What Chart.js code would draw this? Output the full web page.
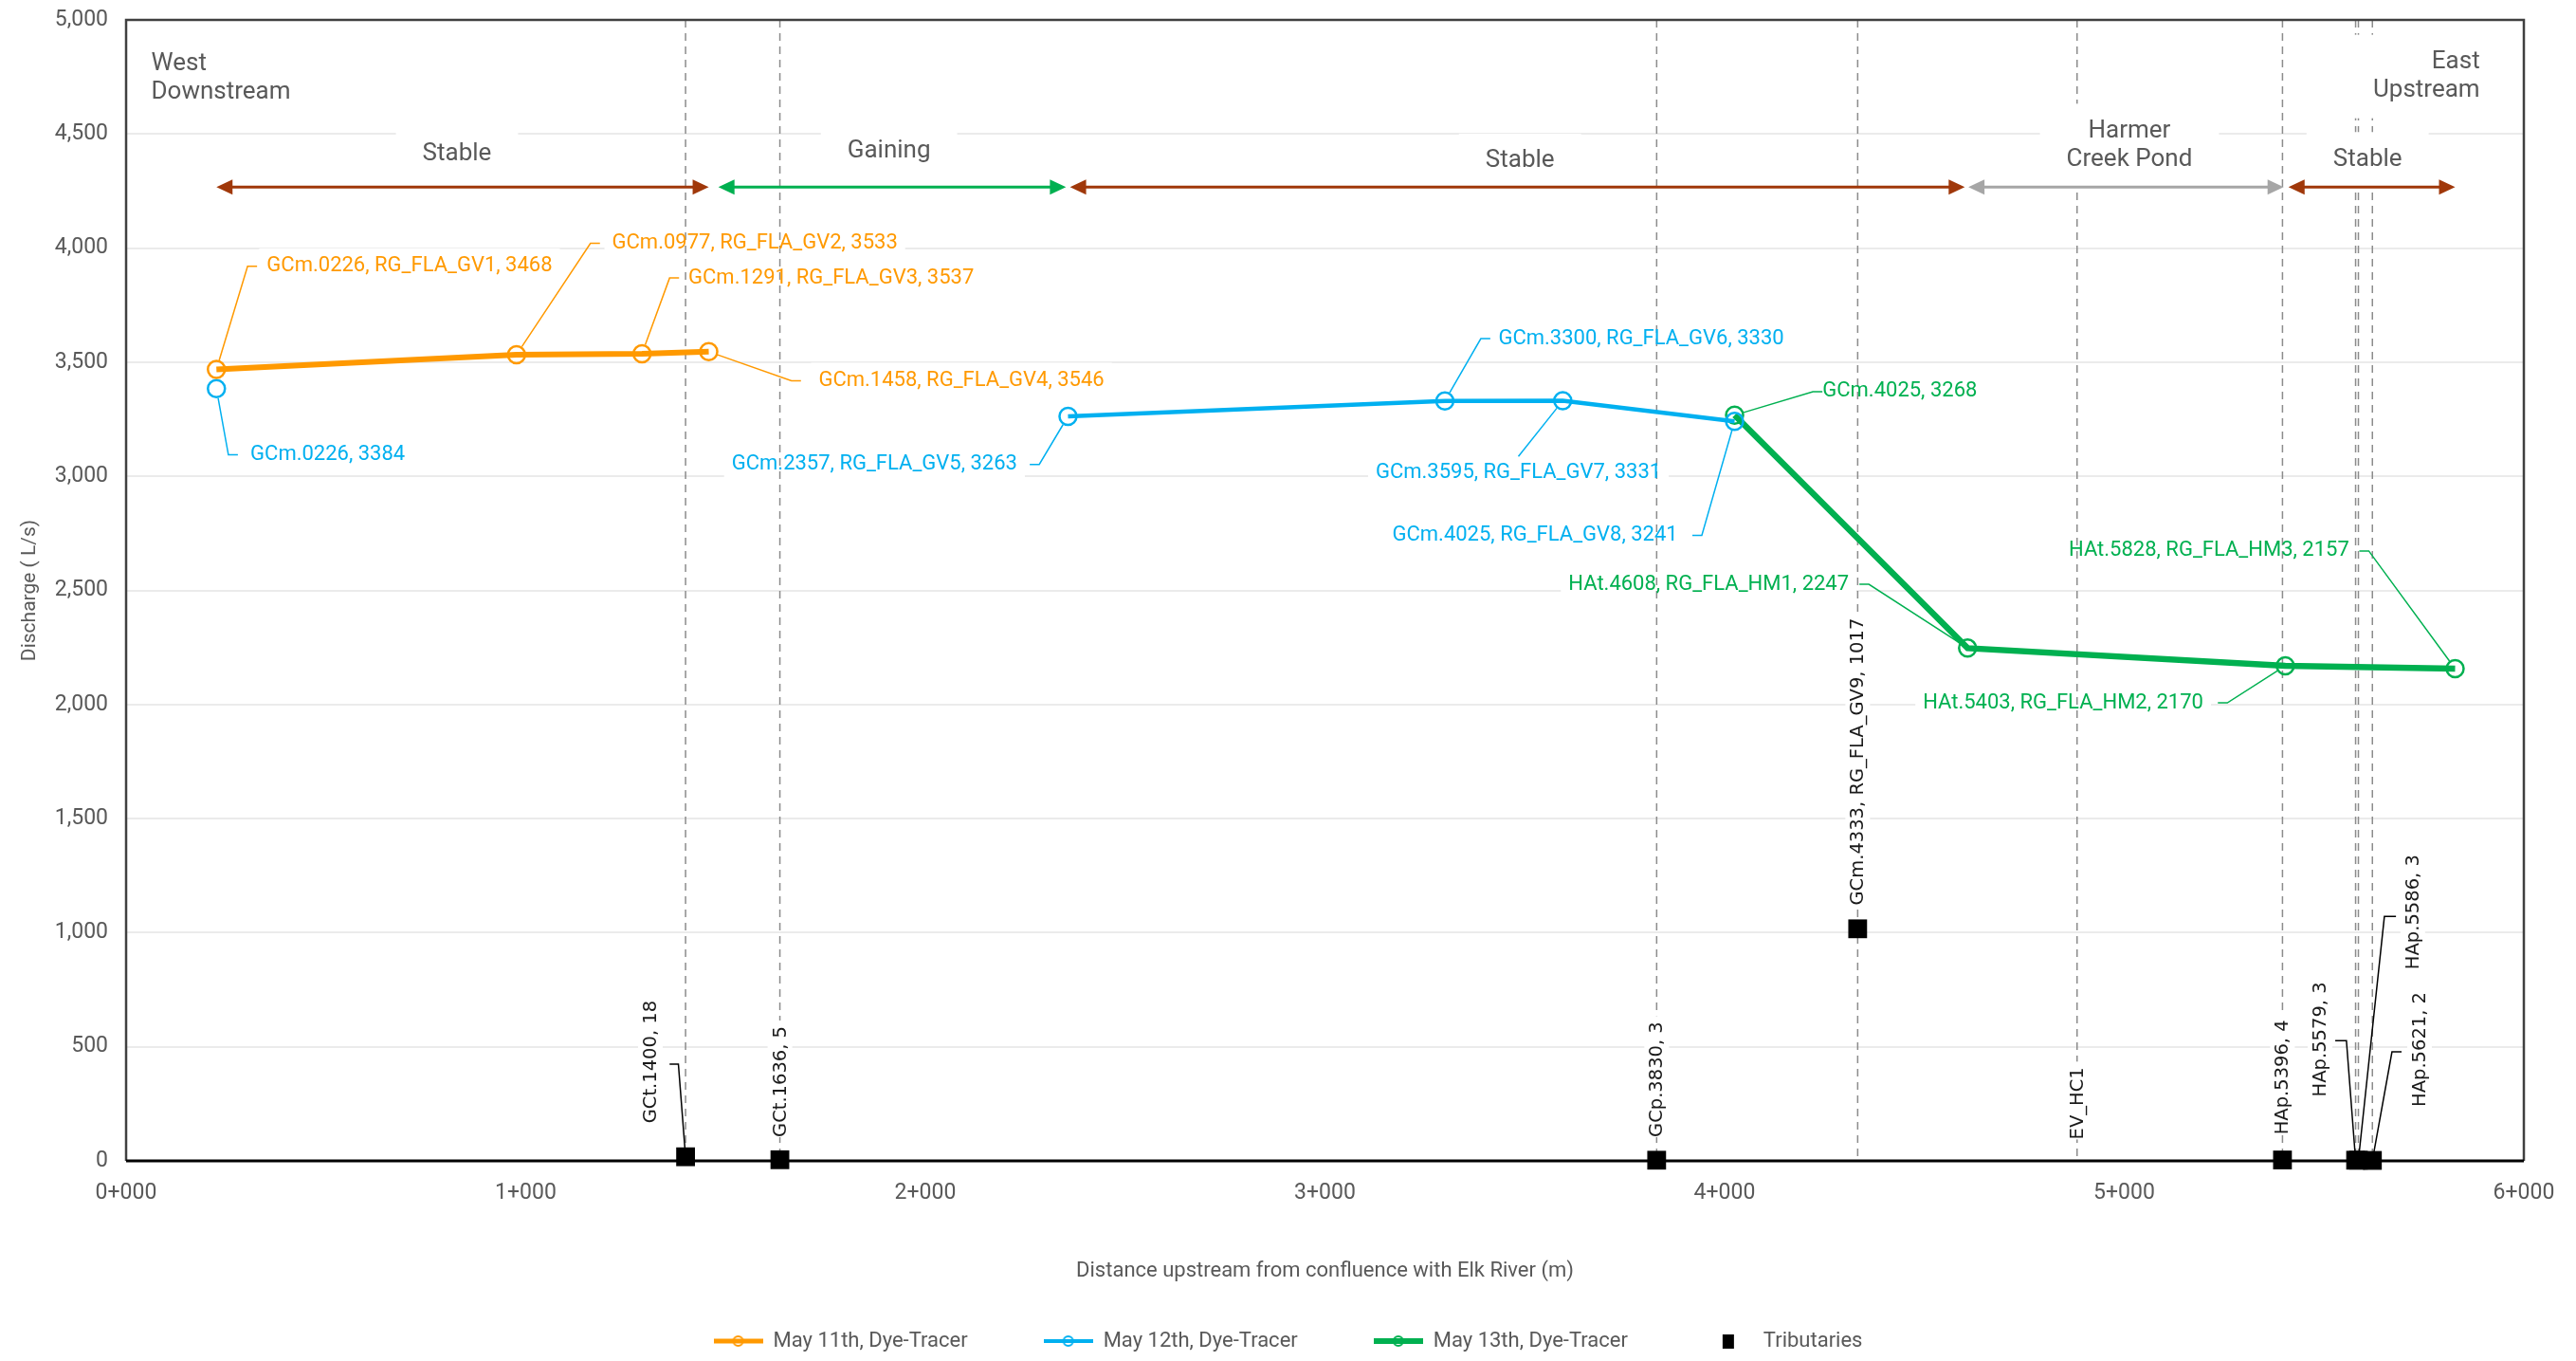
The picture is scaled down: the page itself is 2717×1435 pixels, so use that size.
<!DOCTYPE html>
<html lang="en">
<head>
    <meta charset="UTF-8">
    <title>Discharge - Dye-Tracer</title>
    <script src="https://cdn.jsdelivr.net/npm/chart.js"></script>
    <style>
        html, body { margin: 0; padding: 0; background: #fff; }
        #wrap { width: 2717px; height: 1435px; }
    </style>
</head>
<body>
<div id="wrap"><canvas id="myChart"></canvas></div>
<script>
    // distance upstream (m) and discharge (L/s) for each tracer run
    const may11Dist = [226, 977, 1291, 1458];
    const may11Q = [3468, 3533, 3537, 3546];
    const may11Labels = ['GCm.0226, RG_FLA_GV1, 3468', 'GCm.0977, RG_FLA_GV2, 3533', 'GCm.1291, RG_FLA_GV3, 3537', 'GCm.1458, RG_FLA_GV4, 3546'];

    const may12Dist = [226, 2357, 3300, 3595, 4025];
    const may12Q = [3384, 3263, 3330, 3331, 3241];
    const may12Labels = ['GCm.0226, 3384', 'GCm.2357, RG_FLA_GV5, 3263', 'GCm.3300, RG_FLA_GV6, 3330', 'GCm.3595, RG_FLA_GV7, 3331', 'GCm.4025, RG_FLA_GV8, 3241'];

    const may13Dist = [4025, 4608, 5403, 5828];
    const may13Q = [3268, 2247, 2170, 2157];
    const may13Labels = ['GCm.4025, 3268', 'HAt.4608, RG_FLA_HM1, 2247', 'HAt.5403, RG_FLA_HM2, 2170', 'HAt.5828, RG_FLA_HM3, 2157'];

    const tribDist = [1400, 1636, 3830, 4333, 5396, 5579, 5586, 5621];
    const tribQ = [18, 5, 3, 1017, 4, 3, 3, 2];
    const tribNames = ['GCt.1400', 'GCt.1636', 'GCp.3830', 'GCm.4333, RG_FLA_GV9', 'HAp.5396', 'HAp.5579', 'HAp.5586', 'HAp.5621'];

    const stationDist = 4882;   // EV_HC1, no discharge
    const stationName = 'EV_HC1';

    // reaches along the creek
    const zoneNames = ['Stable', 'Gaining', 'Stable', 'Harmer\nCreek Pond', 'Stable'];
    const zoneStart = [226, 1482, 2362, 4610, 5411];
    const zoneEnd = [1458, 2352, 4601, 5399, 5828];

    const xTicks = [0, 1000, 2000, 3000, 4000, 5000, 6000];

    // callout placement: [text x, text y, align, bend x, bend y]
    const may11Spots = [
        [352, 3920, 'left', 304, 3920],
        [1216, 4021, 'left', 1162, 4021],
        [1407, 3869, 'left', 1360, 3869],
        [1733, 3419, 'left', 1665, 3419]
    ];
    const may12Spots = [
        [311, 3094, 'left', 256, 3094],
        [2230, 3052, 'right', 2285, 3052],
        [3434, 3603, 'left', 3390, 3603],
        [3484, 3014, 'center', 3484, 3087],
        [3883, 2741, 'right', 3943, 2741]
    ];
    const may13Spots = [
        [4245, 3371, 'left', 4221, 3371],
        [4311, 2527, 'right', 4361, 2527],
        [5198, 2007, 'right', 5258, 2007],
        [5563, 2673, 'right', 5612, 2673]
    ];
    // rotated tributary labels: [text x, text start y, leader bend, leader end]
    const tribSpots = [
        [1312, 165, [1382, 424], [1360, 424]],
        [1636, 104],
        [3830, 104],
        [4333, 1120],
        [5396, 115],
        [5490, 281, [5556, 527], [5528, 527]],
        [5722, 839, [5651, 1071], [5680, 1071]],
        [5739, 237, [5670, 478], [5694, 478]]
    ];
    const zoneLabelX = [828, 1909, 3488, 5013, 5609];
    const zoneLabelY = [4410, 4424, 4381, 4450, 4388];

    const ORANGE = '#FF9900', BLUE = '#00B0F0', GREEN = '#00B050', BROWN = '#A0380A', GREY = '#A6A6A6';
    const zoneColors = [BROWN, GREEN, BROWN, GREY, BROWN];
    const TXT = '#595959';

    const toXY = (xs, ys) => xs.map((v, i) => ({x: v, y: ys[i]}));

    function lineIcon(color, w) {
        const c = document.createElement('canvas');
        c.width = 52; c.height = 20;
        const g = c.getContext('2d');
        g.strokeStyle = color;
        g.lineWidth = w;
        g.beginPath(); g.moveTo(0, 10); g.lineTo(52, 10); g.stroke();
        g.lineWidth = 2;
        g.beginPath(); g.arc(26, 10, 5, 0, Math.PI * 2); g.stroke();
        return c;
    }
    function squareIcon() {
        const c = document.createElement('canvas');
        c.width = 52; c.height = 20;
        const g = c.getContext('2d');
        g.fillStyle = '#000';
        g.fillRect(20, 3, 12, 15);
        return c;
    }
    const legendIcons = [lineIcon(ORANGE, 5), lineIcon(BLUE, 4), lineIcon(GREEN, 6), squareIcon()];

    const series = [
        {dist: may11Dist, q: may11Q, text: may11Labels, spots: may11Spots, color: ORANGE},
        {dist: may12Dist, q: may12Q, text: may12Labels, spots: may12Spots, color: BLUE},
        {dist: may13Dist, q: may13Q, text: may13Labels, spots: may13Spots, color: GREEN}
    ];

    const calloutFont = '22px Roboto';
    const zoneFont = '26px Roboto';
    const tribFont = '19.5px "DejaVu Sans"';

    function drawArrowHead(ctx, x, y, dir, color) {
        ctx.fillStyle = color;
        ctx.beginPath();
        ctx.moveTo(x, y);
        ctx.lineTo(x - dir * 17, y - 8);
        ctx.lineTo(x - dir * 17, y + 8);
        ctx.closePath();
        ctx.fill();
    }

    function multiLine(ctx, text, x, y, lh, bg, padX, padY) {
        const lines = text.split('\n');
        const top = y - (lines.length - 1) * lh / 2;
        if (bg) {
            const w = Math.max(...lines.map(l => ctx.measureText(l).width));
            let left = x;
            if (ctx.textAlign === 'center') left = x - w / 2;
            if (ctx.textAlign === 'right') left = x - w;
            ctx.fillRect(left - padX, top - lh / 2 - padY, w + 2 * padX, lines.length * lh + 2 * padY);
        } else {
            lines.forEach((l, i) => ctx.fillText(l, x, top + i * lh));
        }
    }

    const overlay = {
        id: 'overlay',
        beforeDatasetsDraw(chart) {
            const {ctx, chartArea: a, scales: {x, y}} = chart;
            const px = v => x.getPixelForValue(v), py = v => y.getPixelForValue(v);
            ctx.save();
            ctx.textBaseline = 'middle';

            // white boxes behind callouts (cut the gridlines)
            ctx.font = calloutFont;
            ctx.fillStyle = '#fff';
            series.forEach(s => s.spots.forEach((p, i) => {
                const w = ctx.measureText(s.text[i]).width;
                let left = px(p[0]);
                if (p[2] === 'right') left -= w;
                if (p[2] === 'center') left -= w / 2;
                ctx.fillRect(left - 8, py(p[1]) - 19, w + 16, 38);
            }));

            // dashed verticals at tributaries and station
            ctx.strokeStyle = '#8C8C8C';
            ctx.lineWidth = 1.5;
            ctx.setLineDash([8, 6]);
            tribDist.concat([stationDist]).forEach(d => {
                ctx.beginPath();
                ctx.moveTo(px(d), a.top);
                ctx.lineTo(px(d), a.bottom);
                ctx.stroke();
            });
            ctx.setLineDash([]);

            // boxes behind reach and corner labels
            ctx.fillStyle = '#fff';
            ctx.font = zoneFont;
            ctx.textAlign = 'center';
            zoneNames.forEach((n, i) => multiLine(ctx, n, px(zoneLabelX[i]), py(zoneLabelY[i]), 30, true, 28, 14));
            ctx.textAlign = 'left';
            multiLine(ctx, 'West\nDownstream', px(63), py(4745), 30, true, 14, 12);
            ctx.textAlign = 'right';
            multiLine(ctx, 'East\nUpstream', px(5890), py(4752), 30, true, 40, 14);

            // boxes behind rotated labels
            ctx.font = tribFont;
            const rotated = tribSpots.map((p, i) => [p[0], p[1], tribNames[i] + ', ' + tribQ[i]]);
            rotated.push([stationDist, 94, stationName]);
            rotated.forEach(r => {
                const w = ctx.measureText(r[2]).width;
                ctx.fillRect(px(r[0]) - 13, py(r[1]) - w - 6, 26, w + 6);
            });

            // reach arrows
            ctx.lineWidth = 3;
            zoneNames.forEach((n, i) => {
                const x0 = px(zoneStart[i]), x1 = px(zoneEnd[i]), yy = py(4267);
                ctx.strokeStyle = zoneColors[i];
                ctx.beginPath();
                ctx.moveTo(x0 + 10, yy);
                ctx.lineTo(x1 - 10, yy);
                ctx.stroke();
                drawArrowHead(ctx, x0, yy, -1, zoneColors[i]);
                drawArrowHead(ctx, x1, yy, 1, zoneColors[i]);
            });

            // reach and corner text
            ctx.fillStyle = TXT;
            ctx.font = zoneFont;
            ctx.textAlign = 'center';
            zoneNames.forEach((n, i) => multiLine(ctx, n, px(zoneLabelX[i]), py(zoneLabelY[i]), 30, false));
            ctx.textAlign = 'left';
            multiLine(ctx, 'West\nDownstream', px(63), py(4745), 30, false);
            ctx.textAlign = 'right';
            multiLine(ctx, 'East\nUpstream', px(5890), py(4752), 30, false);

            // callout leaders
            ctx.lineWidth = 1.5;
            series.forEach(s => s.spots.forEach((p, i) => {
                const mx = px(s.dist[i]), my = py(s.q[i]);
                const bx = px(p[3]), by = py(p[4]);
                const len = Math.hypot(bx - mx, by - my);
                ctx.strokeStyle = s.color;
                ctx.beginPath();
                ctx.moveTo(mx + (bx - mx) / len * 10, my + (by - my) / len * 10);
                ctx.lineTo(bx, by);
                if (p[2] === 'left') ctx.lineTo(bx + 10, by);
                if (p[2] === 'right') ctx.lineTo(bx - 10, by);
                ctx.stroke();
            }));

            // tributary leaders
            ctx.strokeStyle = '#000';
            tribSpots.forEach((p, i) => {
                if (!p[2]) return;
                ctx.beginPath();
                ctx.moveTo(px(tribDist[i]), py(tribQ[i]));
                ctx.lineTo(px(p[2][0]), py(p[2][1]));
                ctx.lineTo(px(p[3][0]), py(p[3][1]));
                ctx.stroke();
            });

            // frame
            ctx.strokeStyle = '#404040';
            ctx.lineWidth = 2.5;
            ctx.beginPath();
            ctx.moveTo(a.left, a.bottom);
            ctx.lineTo(a.left, a.top);
            ctx.lineTo(a.right, a.top);
            ctx.lineTo(a.right, a.bottom);
            ctx.stroke();
            ctx.strokeStyle = '#000';
            ctx.lineWidth = 3;
            ctx.beginPath();
            ctx.moveTo(a.left, a.bottom);
            ctx.lineTo(a.right, a.bottom);
            ctx.stroke();
            ctx.restore();
        },
        afterDatasetsDraw(chart) {
            const {ctx, scales: {x, y}} = chart;
            const px = v => x.getPixelForValue(v), py = v => y.getPixelForValue(v);
            ctx.save();
            ctx.textBaseline = 'middle';
            ctx.font = calloutFont;
            series.forEach(s => s.spots.forEach((p, i) => {
                ctx.fillStyle = s.color;
                ctx.textAlign = p[2];
                ctx.fillText(s.text[i], px(p[0]), py(p[1]));
            }));

            ctx.font = tribFont;
            ctx.fillStyle = '#1a1a1a';
            ctx.textAlign = 'left';
            const rotated = tribSpots.map((p, i) => [p[0], p[1], tribNames[i] + ', ' + tribQ[i]]);
            rotated.push([stationDist, 94, stationName]);
            rotated.forEach(r => {
                ctx.save();
                ctx.translate(px(r[0]), py(r[1]));
                ctx.rotate(-Math.PI / 2);
                ctx.fillText(r[2], 0, 1);
                ctx.restore();
            });
            ctx.restore();
        }
    };

    Chart.defaults.font.family = 'Roboto';
    Chart.defaults.color = TXT;

    const ctx = document.getElementById('myChart').getContext('2d');
    const myChart = new Chart(ctx, {
        type: 'line',
        data: {
            datasets: [{
                label: 'May 11th, Dye-Tracer',
                data: toXY(may11Dist, may11Q),
                borderColor: ORANGE,
                borderWidth: 6,
                pointRadius: 9,
                pointBorderWidth: 2.5,
                pointBorderColor: ORANGE,
                pointBackgroundColor: 'rgba(0,0,0,0)',
                clip: false
            }, {
                label: 'May 12th, Dye-Tracer',
                data: toXY(may12Dist, may12Q),
                borderColor: BLUE,
                borderWidth: 4.5,
                pointRadius: 9,
                pointBorderWidth: 2.5,
                pointBorderColor: BLUE,
                pointBackgroundColor: 'rgba(0,0,0,0)',
                // first station is a lone measurement
                segment: { borderColor: c => c.p0DataIndex === 0 ? 'rgba(0,0,0,0)' : undefined },
                clip: false
            }, {
                label: 'May 13th, Dye-Tracer',
                data: toXY(may13Dist, may13Q),
                borderColor: GREEN,
                borderWidth: 6.5,
                pointRadius: 9,
                pointBorderWidth: 2.5,
                pointBorderColor: GREEN,
                pointBackgroundColor: 'rgba(0,0,0,0)',
                clip: false
            }, {
                label: 'Tributaries',
                data: toXY(tribDist, tribQ),
                showLine: false,
                pointStyle: 'rect',
                pointRadius: 14,
                pointBorderWidth: 0,
                backgroundColor: '#000',
                borderColor: '#000',
                clip: false
            }]
        },
        options: {
            responsive: true,
            maintainAspectRatio: false,
            animation: false,
            layout: { padding: { top: 21, right: 0, left: 0, bottom: 0 } },
            plugins: {
                tooltip: { enabled: false },
                legend: {
                    position: 'bottom',
                    labels: {
                        usePointStyle: true,
                        pointStyleWidth: 52,
                        padding: 80,
                        color: TXT,
                        font: { size: 22 },
                        generateLabels(chart) {
                            const items = Chart.defaults.plugins.legend.labels.generateLabels(chart);
                            items.forEach((it, i) => { it.pointStyle = legendIcons[i]; });
                            return items;
                        }
                    }
                }
            },
            scales: {
                x: {
                    type: 'linear',
                    min: 0,
                    max: 6000,
                    afterBuildTicks: s => { s.ticks = xTicks.map(v => ({value: v})); },
                    afterFit: s => { s.height = 99; s.paddingLeft = 0; s.paddingRight = 0; },
                    grid: { display: false },
                    border: { display: false },
                    ticks: {
                        padding: 12,
                        color: TXT,
                        font: { size: 23 },
                        callback: v => Math.floor(v / 1000) + '+' + String(v % 1000).padStart(3, '0')
                    },
                    title: {
                        display: true,
                        text: 'Distance upstream from confluence with Elk River (m)',
                        color: TXT,
                        font: { size: 22 },
                        padding: { bottom: -31 }
                    }
                },
                y: {
                    min: 0,
                    max: 5000,
                    afterFit: s => { s.width = 133; s.paddingTop = 0; s.paddingBottom = 0; },
                    grid: { color: '#EBEBEB', lineWidth: 2, drawTicks: false },
                    border: { display: false },
                    ticks: {
                        stepSize: 500,
                        padding: 19,
                        color: TXT,
                        font: { size: 23 },
                        callback: v => v.toLocaleString('en-US')
                    },
                    title: {
                        display: true,
                        text: 'Discharge ( L/s)',
                        color: TXT,
                        font: { size: 21 },
                        padding: { top: 19 }
                    }
                },
                // empty right margin so the legend centres on the whole page
                yRight: {
                    position: 'right',
                    min: 0,
                    max: 5000,
                    afterFit: s => { s.width = 55; s.paddingTop = 0; s.paddingBottom = 0; },
                    grid: { display: false },
                    border: { display: false },
                    ticks: { display: false }
                }
            }
        },
        plugins: [overlay]
    });
</script>
</body>
</html>
